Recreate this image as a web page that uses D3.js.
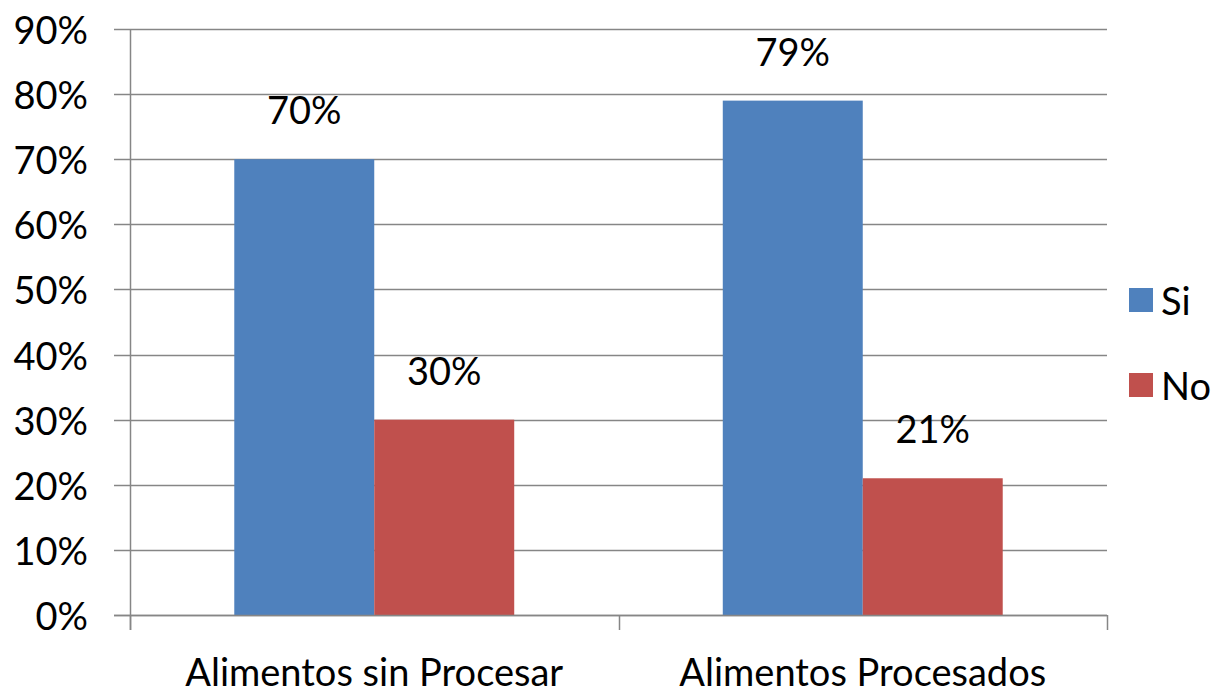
<!DOCTYPE html>
<html>
<head>
<meta charset="utf-8">
<script src="https://cdn.jsdelivr.net/npm/d3@7"></script>
<style>
  html, body { margin: 0; padding: 0; background: #fff; }
  svg { display: block; }
  text { font-family: Lato, "Open Sans", sans-serif; fill: #000; }
</style>
</head>
<body>
<svg id="chart" width="1214" height="697"></svg>
<script>
const categories = ["Alimentos sin Procesar", "Alimentos Procesados"];
const series = ["Si", "No"];
const siValues = [0.70, 0.79];
const noValues = [0.30, 0.21];
const yTicks = [0, 0.1, 0.2, 0.3, 0.4, 0.5, 0.6, 0.7, 0.8, 0.9];
const colors = ["#4F81BD", "#C0504D"];

const valuesBySeries = [siValues, noValues];
const svg = d3.select("#chart");
const plotLeft = 130, plotRight = 1107, plotTop = 29, plotBottom = 615;
const gridColor = "#868686";
const fontSize = 38;

const y = d3.scaleLinear().domain([0, 0.9]).range([plotBottom, plotTop]);
const x0 = d3.scaleBand().domain(categories).range([plotLeft, plotRight]).padding(0);
const x1 = d3.scaleBand().domain(series).range([0, x0.bandwidth()])
  .paddingInner(0).paddingOuter(0.745);

// gridlines
svg.append("g").selectAll("line").data(yTicks).join("line")
  .attr("x1", plotLeft - 16).attr("x2", plotRight)
  .attr("y1", d => Math.round(y(d)) + 0.5).attr("y2", d => Math.round(y(d)) + 0.5)
  .attr("stroke", gridColor).attr("stroke-width", 1.5);

// y tick labels
svg.append("g").selectAll("text").data(yTicks).join("text")
  .attr("x", 88).attr("y", d => y(d))
  .attr("text-anchor", "end").attr("dominant-baseline", "central")
  .style("font-size", fontSize + "px")
  .text(d => d3.format(".0%")(d));

// bars
const groups = svg.append("g").selectAll("g").data(categories).join("g")
  .attr("transform", c => `translate(${x0(c)},0)`);
groups.selectAll("rect")
  .data((c, i) => series.map((s, j) => ({ s, j, v: valuesBySeries[j][i] })))
  .join("rect")
  .attr("x", d => x1(d.s)).attr("width", x1.bandwidth())
  .attr("y", d => y(d.v)).attr("height", d => y(0) - y(d.v))
  .attr("fill", d => colors[d.j]);

// data labels
groups.selectAll("text.lbl")
  .data((c, i) => series.map((s, j) => ({ s, j, v: valuesBySeries[j][i] })))
  .join("text").attr("class", "lbl")
  .attr("x", d => x1(d.s) + x1.bandwidth() / 2)
  .attr("y", d => y(d.v) - 35)
  .attr("text-anchor", "middle")
  .style("font-size", fontSize + "px")
  .text(d => d3.format(".0%")(d.v));

// axes lines
svg.append("line").attr("x1", plotLeft + 0.5).attr("x2", plotLeft + 0.5)
  .attr("y1", plotTop).attr("y2", plotBottom + 15)
  .attr("stroke", gridColor).attr("stroke-width", 1.5);
svg.append("line").attr("x1", plotLeft - 16).attr("x2", plotRight)
  .attr("y1", plotBottom + 0.5).attr("y2", plotBottom + 0.5)
  .attr("stroke", gridColor).attr("stroke-width", 1.5);
const tickXs = [x0(categories[0]), x0(categories[1]), x0(categories[1]) + x0.bandwidth()];
svg.append("g").selectAll("line").data(tickXs).join("line")
  .attr("x1", d => Math.round(d) + 0.5).attr("x2", d => Math.round(d) + 0.5)
  .attr("y1", plotBottom).attr("y2", plotBottom + 15)
  .attr("stroke", gridColor).attr("stroke-width", 1.5);

// category labels
svg.append("g").selectAll("text").data(categories).join("text")
  .attr("x", c => x0(c) + x0.bandwidth() / 2).attr("y", 686)
  .attr("text-anchor", "middle")
  .style("font-size", fontSize + "px")
  .text(c => c);

// legend
const legend = svg.append("g").selectAll("g").data(series).join("g")
  .attr("transform", (s, i) => `translate(1129,${300 + i * 85})`);
legend.append("rect").attr("x", 0).attr("y", -12).attr("width", 24).attr("height", 24)
  .attr("fill", (s, i) => colors[i]);
legend.append("text").attr("x", 32).attr("y", 0)
  .attr("dominant-baseline", "central")
  .style("font-size", fontSize + "px")
  .text(s => s);
</script>
</body>
</html>
